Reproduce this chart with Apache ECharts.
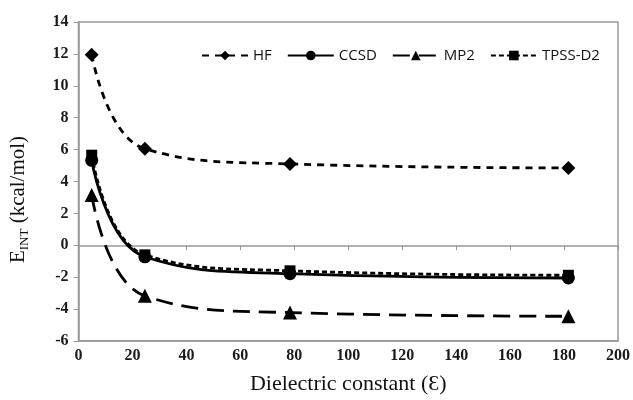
<!DOCTYPE html>
<html>
<head>
<meta charset="utf-8">
<script src="https://cdn.jsdelivr.net/npm/echarts@6/dist/echarts.min.js"></script>
<style>
  html, body { margin: 0; padding: 0; background: #fff; }
  #chart { width: 633px; height: 400px; }
</style>
</head>
<body>
<div id="chart"></div>
<script>
// dielectric constants (x) and interaction energies (kcal/mol)
const dielectric = [4.9, 24.6, 78.4, 181.6]
const hf = [11.95, 6.05, 5.1, 4.85]
const ccsd = [5.33, -0.72, -1.78, -2.05]
const mp2 = [3.15, -3.17, -4.22, -4.45]
const tpss = [5.65, -0.6, -1.6, -1.88]

const pairs = ys => dielectric.map((x, i) => [x, ys[i]])

const chart = echarts.init(document.getElementById('chart'))

const mkSeries = (name, ys, symbol, size, dash) => ({
  name: name,
  type: 'line',
  data: pairs(ys),
  smooth: 0.45,
  symbol: symbol,
  symbolSize: size,
  showSymbol: true,
  itemStyle: { color: '#000' },
  lineStyle: { color: '#000', width: 2.8, type: dash },
  xAxisIndex: 0,
  z: 5
})

const tickFont = {
  color: '#1a1a1a',
  fontFamily: 'Liberation Serif',
  fontWeight: 'bold',
  fontSize: 16
}

const option = {
  animation: false,
  grid: {
    left: 77,
    right: 15,
    top: 22,
    bottom: 55,
    show: true,
    borderColor: '#999',
    borderWidth: 1.5
  },
  legend: {
    top: 43,
    left: 196,
    itemWidth: 46,
    itemHeight: 12,
    itemGap: 15,
    textStyle: { fontFamily: 'Open Sans', fontSize: 15, color: '#111' },
    data: ['HF', 'CCSD', 'MP2', 'TPSS-D2']
  },
  xAxis: [
    {
      type: 'value',
      min: 0,
      max: 200,
      interval: 20,
      axisLine: { onZero: false, lineStyle: { color: '#999', width: 1.5 } },
      axisTick: { show: false },
      splitLine: { show: false },
      axisLabel: Object.assign({ margin: 7 }, tickFont),
      name: 'Dielectric constant (Ɛ)',
      nameLocation: 'middle',
      nameGap: 32,
      nameTextStyle: { fontFamily: 'Liberation Serif', fontSize: 22, color: '#111' }
    },
    {
      type: 'value',
      position: 'top',
      min: 0,
      max: 200,
      interval: 20,
      axisLine: { onZero: true, lineStyle: { color: '#999', width: 1.5 } },
      axisTick: { show: true, inside: true, length: 5, lineStyle: { color: '#999' } },
      axisLabel: { show: false },
      splitLine: { show: false }
    }
  ],
  yAxis: {
    type: 'value',
    min: -6,
    max: 14,
    interval: 2,
    axisLine: { show: true, lineStyle: { color: '#999', width: 1.5 } },
    axisTick: { show: true, length: 5, lineStyle: { color: '#999' } },
    splitLine: { show: false },
    axisLabel: Object.assign({ margin: 10 }, tickFont),
    name: '{a|E}{b|INT}{a| (kcal/mol)}',
    nameLocation: 'middle',
    nameRotate: 90,
    nameGap: 47,
    nameTextStyle: {
      padding: [0, 36, 0, 0],
      rich: {
        a: { fontFamily: 'Liberation Serif', fontSize: 21, color: '#111', lineHeight: 26 },
        b: { fontFamily: 'Liberation Serif', fontSize: 13, color: '#111', lineHeight: 26, verticalAlign: 'bottom', padding: [9, 0, 0, 0] }
      }
    }
  },
  series: [
    mkSeries('HF', hf, 'diamond', 14, [7, 6]),
    mkSeries('CCSD', ccsd, 'circle', 13, 'solid'),
    mkSeries('MP2', mp2, 'triangle', 14, [17, 9]),
    mkSeries('TPSS-D2', tpss, 'rect', 11, [5, 3])
  ]
}

chart.setOption(option)
</script>
</body>
</html>
